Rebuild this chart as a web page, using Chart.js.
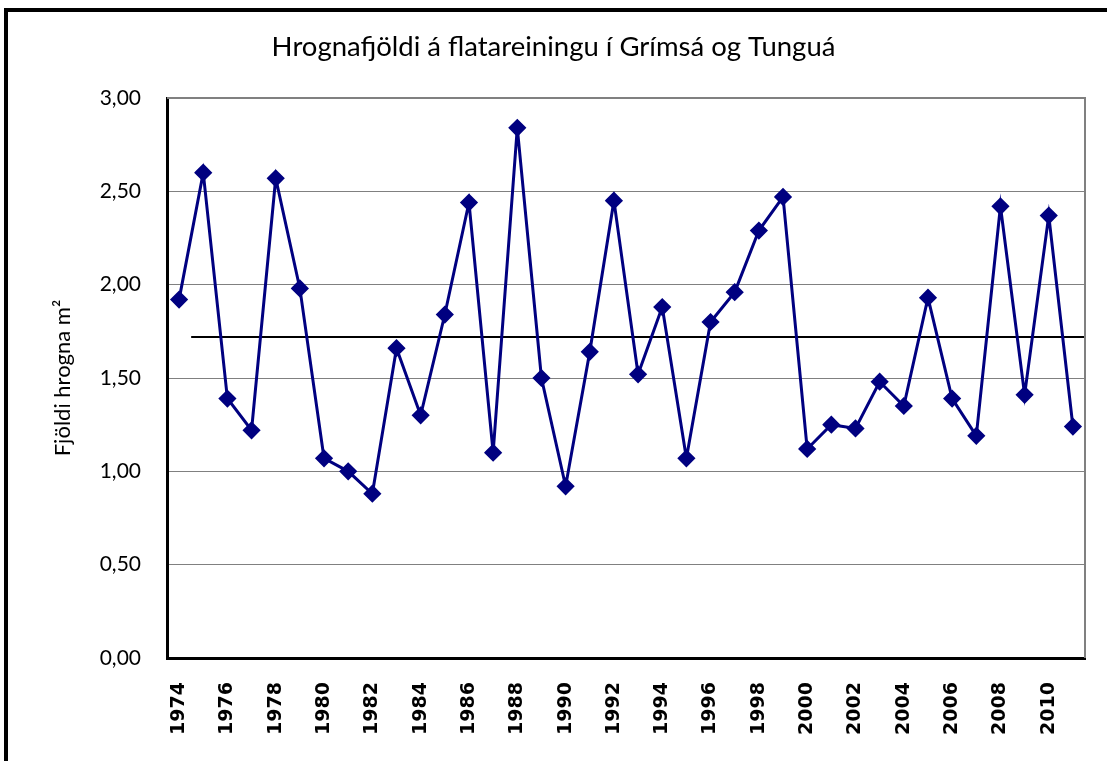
<!DOCTYPE html>
<html>
<head>
<meta charset="utf-8">
<title>Hrognafjöldi á flatareiningu í Grímsá og Tunguá</title>
<script src="https://cdn.jsdelivr.net/npm/chart.js@4.4.1/dist/chart.umd.min.js"></script>
<style>
  html, body { margin: 0; padding: 0; background: #fff; }
  #wrap { position: relative; width: 1107px; height: 761px; overflow: hidden; }
  #frame { position: absolute; left: 4px; top: 8px; width: 1200px; height: 900px; border: 4px solid #000; box-sizing: border-box; }
  #chart { position: absolute; left: 0; top: 0; }
</style>
</head>
<body>
<div id="wrap">
  <div id="frame"></div>
  <canvas id="chart" width="1107" height="761"></canvas>
</div>
<script>
  // years on the category axis
  var YEARS = [
    '1974', '1975', '1976', '1977', '1978', '1979', '1980', '1981', '1982', '1983',
    '1984', '1985', '1986', '1987', '1988', '1989', '1990', '1991', '1992', '1993',
    '1994', '1995', '1996', '1997', '1998', '1999', '2000', '2001', '2002', '2003',
    '2004', '2005', '2006', '2007', '2008', '2009', '2010', '2011'
  ];

  // eggs per m²
  var EGGS = [
    1.92, 2.60, 1.39, 1.22, 2.57, 1.98, 1.07, 1.00, 0.88, 1.66,
    1.30, 1.84, 2.44, 1.10, 2.84, 1.50, 0.92, 1.64, 2.45, 1.52,
    1.88, 1.07, 1.80, 1.96, 2.29, 2.47, 1.12, 1.25, 1.23, 1.48,
    1.35, 1.93, 1.39, 1.19, 2.42, 1.41, 2.37, 1.24
  ];

  // mean line: starts half way into 1975 and runs to the right edge
  var MEAN_VALUE = 1.72;
  var MEAN_X = [0.5, 37.5];

  var Y_TICKS = [0, 0.5, 1, 1.5, 2, 2.5, 3];

  var meanPoints = MEAN_X.map(function (x) { return { x: x, y: MEAN_VALUE }; });

  // gray top/right edge of the plot area, like the Excel plot frame
  var plotFrame = {
    id: 'plotFrame',
    afterDraw: function (chart) {
      var a = chart.chartArea, ctx = chart.ctx;
      ctx.save();
      ctx.strokeStyle = '#808080';
      ctx.lineWidth = 2;
      ctx.beginPath();
      ctx.moveTo(a.left, a.top);
      ctx.lineTo(a.right, a.top);
      ctx.lineTo(a.right, a.bottom);
      ctx.stroke();
      ctx.restore();
    }
  };

  new Chart(document.getElementById('chart'), {
    type: 'line',
    data: {
      labels: YEARS,
      datasets: [
        {
          data: EGGS,
          borderColor: '#000080', backgroundColor: '#000080',
          borderWidth: 3, tension: 0,
          pointStyle: 'rectRot', pointRadius: 7, pointHoverRadius: 7,
          order: 1
        },
        {
          data: meanPoints, xAxisID: 'x2',
          borderColor: '#000', borderWidth: 2, pointRadius: 0, tension: 0,
          order: 2
        }
      ]
    },
    options: {
      responsive: false, animation: false,
      layout: { padding: 0 },
      plugins: {
        legend: { display: false },
        tooltip: { enabled: false },
        title: {
          display: true,
          text: 'Hrognafjöldi á flatareiningu í Grímsá og Tunguá',
          color: '#000',
          font: { family: 'Lato', size: 27.5, weight: 'normal' },
          padding: { top: 31, bottom: 34 }
        }
      },
      scales: {
        x: {
          type: 'category', offset: true,
          grid: { display: false, drawTicks: false },
          border: { color: '#000', width: 3 },
          ticks: {
            autoSkip: false, minRotation: 90, maxRotation: 90, padding: 24,
            color: '#000', font: { family: 'DejaVu Sans', size: 19, weight: 'bold' },
            callback: function (v, i) { return i % 2 === 0 ? YEARS[i] : ''; }
          },
          afterFit: function (s) { s.height = 103; s.paddingLeft = 0; s.paddingRight = 22; }
        },
        x2: {
          type: 'linear', display: false, min: -0.5, max: YEARS.length - 0.5
        },
        y: {
          min: 0, max: 3,
          afterBuildTicks: function (s) { s.ticks = Y_TICKS.map(function (v) { return { value: v }; }); },
          grid: { color: '#808080', lineWidth: 1, drawTicks: false },
          border: { color: '#000', width: 3 },
          ticks: {
            padding: 26, color: '#000',
            font: { family: 'Lato', size: 21 },
            callback: function (v) { return v.toFixed(2).replace('.', ','); }
          },
          title: {
            display: true, text: 'Fjöldi hrogna m²', color: '#000',
            font: { family: 'Lato', size: 22 },
            padding: { top: 50, bottom: 0 }
          },
          afterFit: function (s) { s.width = 167; }
        }
      }
    },
    plugins: [plotFrame]
  });
</script>
</body>
</html>
